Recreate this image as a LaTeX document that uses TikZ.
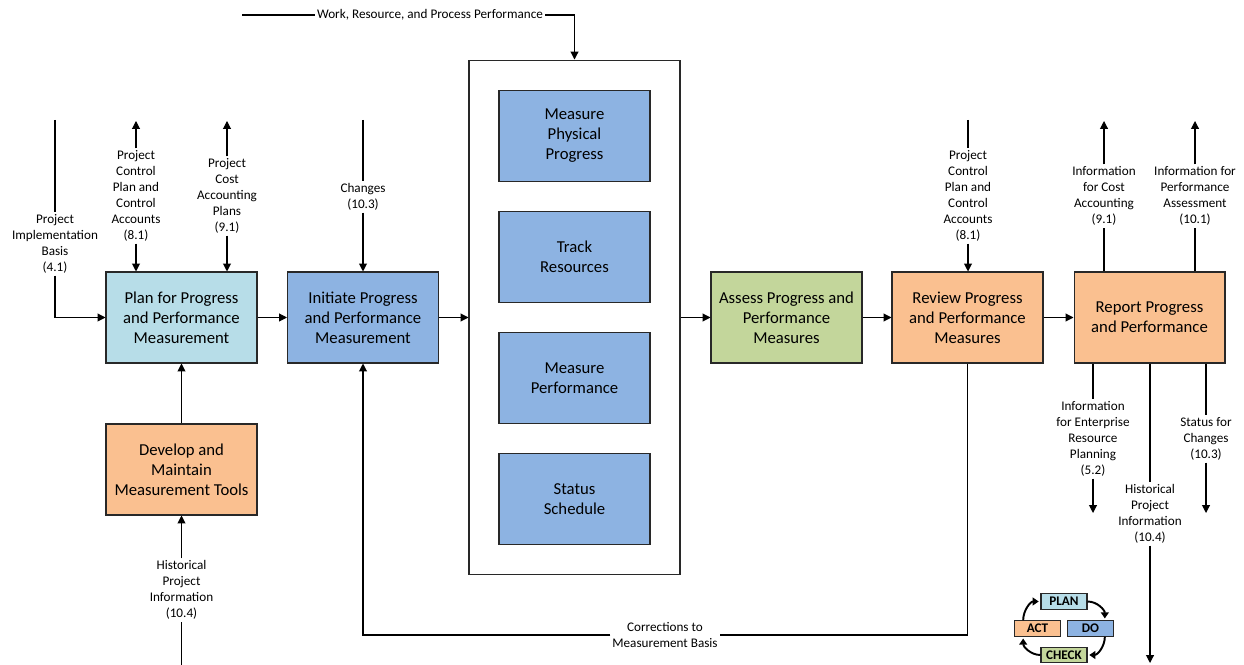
\documentclass[tikz,border=0pt]{standalone}
\usepackage{fontspec}
\setmainfont{Carlito}
\usetikzlibrary{positioning, arrows.meta}

\definecolor{planblue}{RGB}{183,221,232}
\definecolor{doblue}{RGB}{141,179,226}
\definecolor{checkgreen}{RGB}{195,214,155}
\definecolor{actorange}{RGB}{250,192,144}
\definecolor{edge}{RGB}{40,40,40}

\begin{document}
\begin{tikzpicture}[
  x=0.02cm, y=-0.02cm,
  >={Triangle[length=4.5pt,width=4.5pt]},
  block/.style={draw=edge, line width=0.6pt, minimum width=3.02cm,
    minimum height=1.82cm, inner sep=2pt, align=center,
    font=\fontsize{9.5}{11.4}\selectfont},
  planbox/.style={block, fill=planblue},
  dobox/.style={block, fill=doblue},
  checkbox/.style={block, fill=checkgreen},
  actbox/.style={block, fill=actorange},
  lbl/.style={fill=white, inner sep=1pt, align=center,
    font=\fontsize{7.5}{9.1}\selectfont},
  arr/.style={line width=0.6pt},
  cyc/.style={draw=edge, line width=0.6pt, minimum width=0.92cm,
    minimum height=0.31cm, inner sep=0pt, font=\fontsize{7.5}{8}\selectfont\bfseries},
  cycarr/.style={line width=1.1pt, -{Triangle[length=3.5pt,width=4.5pt]},
    shorten >=1pt},
]
\useasboundingbox (0,0) rectangle (1244,665);

% --- Main process boxes ---
\node[planbox] (plan) at (181.5,317.5) {Plan for Progress\\and Performance\\Measurement};
\node[dobox] (init) at (363,317.5) {Initiate Progress\\and Performance\\Measurement};
\node[draw=edge, line width=0.6pt, minimum width=4.22cm, minimum height=10.3cm]
  (meas) at (574.5,317.5) {};
\node[dobox] (phys) at (574.5,136) {Measure\\Physical\\Progress};
\node[dobox] (track) at (574.5,257) {Track\\Resources};
\node[dobox] (perf) at (574.5,378) {Measure\\Performance};
\node[dobox] (sched) at (574.5,499) {Status\\Schedule};
\node[checkbox] (assess) at (786.5,317.5) {Assess Progress and\\Performance\\Measures};
\node[actbox] (review) at (967.5,317.5) {Review Progress\\and Performance\\Measures};
\node[actbox] (report) at (1149.5,317.5) {Report Progress\\and Performance};
\node[actbox] (tools) at (181.5,469.5) {Develop and\\Maintain\\Measurement Tools};

\draw[arr, ->] (plan) -- (init);
\draw[arr, ->] (init) -- (meas);
\draw[arr, ->] (meas) -- (assess);
\draw[arr, ->] (assess) -- (review);
\draw[arr, ->] (review) -- (report);
\draw[arr, ->] (tools) -- (plan);

% --- Top feed ---
\coordinate (wrp-in) at (242,15);
\node[lbl] (wrp) at (430,15) {Work, Resource, and Process Performance};
\draw[arr] (wrp-in) -- (wrp.west);
\draw[arr, ->] (wrp.east) -| (meas.north);

% --- Inputs and outputs on the left ---
\coordinate (pib-in) at (55,120);
\node[lbl] (pib) at (55,244) {Project\\Implementation\\Basis\\(4.1)};
\draw[arr] (pib-in) -- (pib.north);
\draw[arr, ->] (pib.south) |- (plan.west);

\coordinate (pcp-out) at (136,121);
\node[lbl] (pcp) at (136,196) {Project\\Control\\Plan and\\Control\\Accounts\\(8.1)};
\draw[arr, ->] (pcp.north) -- (pcp-out);
\draw[arr, ->] (pcp.south) -- (pcp.south |- plan.north);

\coordinate (pcap-out) at (227,121);
\node[lbl] (pcap) at (227,196) {Project\\Cost\\Accounting\\Plans\\(9.1)};
\draw[arr, ->] (pcap.north) -- (pcap-out);
\draw[arr, ->] (pcap.south) -- (pcap.south |- plan.north);

\coordinate (chg-in) at (363,120);
\node[lbl] (chg) at (363,197) {Changes\\(10.3)};
\draw[arr] (chg-in) -- (chg.north);
\draw[arr, ->] (chg.south) -- (init.north);

\coordinate (hpi-in) at (181.5,665);
\node[lbl] (hpi) at (181.5,590) {Historical\\Project\\Information\\(10.4)};
\draw[arr] (hpi-in) -- (hpi.south);
\draw[arr, ->] (hpi.north) -- (tools.south);

% --- Feedback loop ---
\node[lbl] (corr) at (665,635) {Corrections to\\Measurement Basis};
\draw[arr] (review.south) |- (corr.east);
\draw[arr, ->] (corr.west) -| (init.south);

% --- Inputs and outputs on the right ---
\coordinate (rcp-in) at (968,120);
\node[lbl] (rcp) at (968,196) {Project\\Control\\Plan and\\Control\\Accounts\\(8.1)};
\draw[arr] (rcp-in) -- (rcp.north);
\draw[arr, ->] (rcp.south) -- (rcp.south |- review.north);

\coordinate (ica-out) at (1104,121);
\node[lbl] (ica) at (1104,196) {Information\\for Cost\\Accounting\\(9.1)};
\draw[arr] (ica.south |- report.north) -- (ica.south);
\draw[arr, ->] (ica.north) -- (ica-out);

\coordinate (ipa-out) at (1195,121);
\node[lbl] (ipa) at (1195,196) {Information for\\Performance\\Assessment\\(10.1)};
\draw[arr] (ipa.south |- report.north) -- (ipa.south);
\draw[arr, ->] (ipa.north) -- (ipa-out);

\coordinate (erp-out) at (1093,513);
\node[lbl] (erp) at (1093,439) {Information\\for Enterprise\\Resource\\Planning\\(5.2)};
\draw[arr] (erp.north |- report.south) -- (erp.north);
\draw[arr, ->] (erp.south) -- (erp-out);

\coordinate (rhp-out) at (1150,663);
\node[lbl] (rhp) at (1150,514) {Historical\\Project\\Information\\(10.4)};
\draw[arr] (rhp.north |- report.south) -- (rhp.north);
\draw[arr, ->] (rhp.south) -- (rhp-out);

\coordinate (sfc-out) at (1206,513);
\node[lbl] (sfc) at (1206,439) {Status for\\Changes\\(10.3)};
\draw[arr] (sfc.north |- report.south) -- (sfc.north);
\draw[arr, ->] (sfc.south) -- (sfc-out);

% --- PDCA legend ---
\node[cyc, fill=planblue] (cplan) at (1064,601.5) {PLAN};
\node[cyc, fill=doblue] (cdo) at (1090.5,628.5) {DO};
\node[cyc, fill=checkgreen] (ccheck) at (1064,655) {CHECK};
\node[cyc, fill=actorange] (cact) at (1037.5,628.5) {ACT};
\draw[cycarr] (cact.150) to[out=90, in=180] (cplan.west);
\draw[cycarr] (cplan.east) to[out=0, in=90] (cdo.30);
\draw[cycarr] (cdo.-30) to[out=-90, in=0] (ccheck.east);
\draw[cycarr] (ccheck.west) to[out=180, in=-90] (cact.-150);

\end{tikzpicture}
\end{document}
